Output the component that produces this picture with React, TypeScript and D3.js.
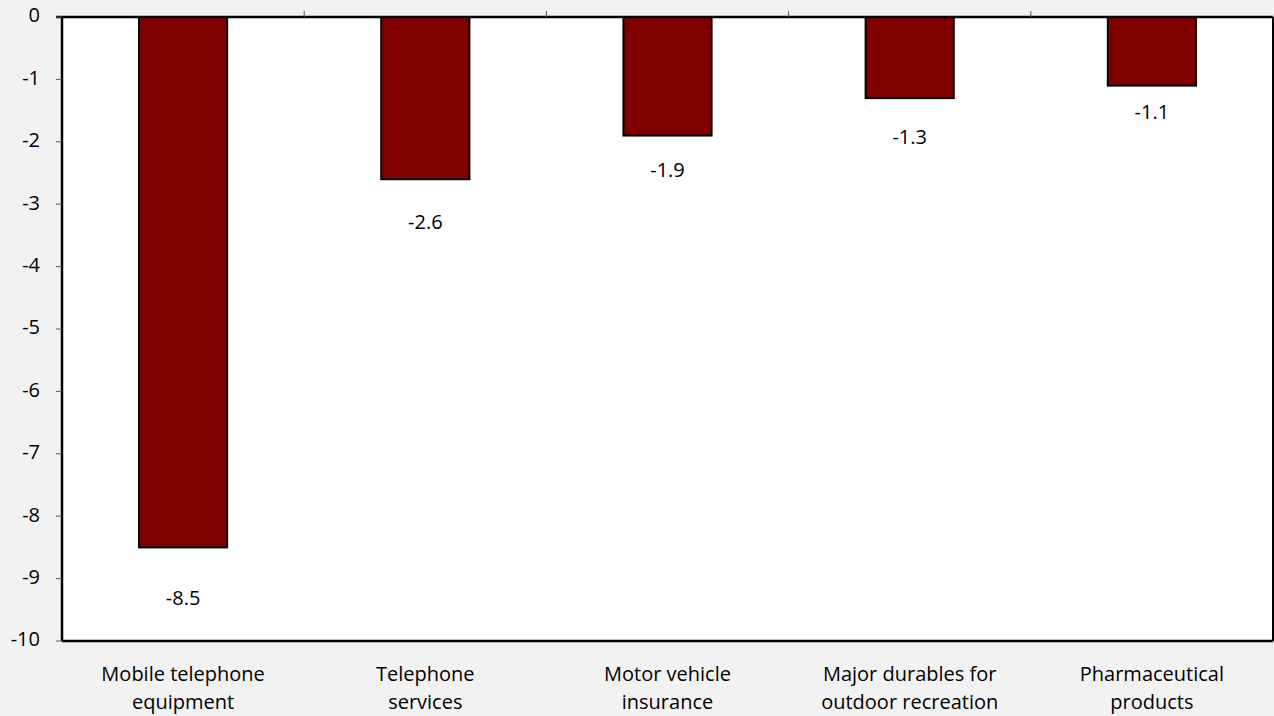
import React from "react";
import * as d3 from "d3";

const categories = [
  ["Mobile telephone", "equipment"],
  ["Telephone", "services"],
  ["Motor vehicle", "insurance"],
  ["Major durables for", "outdoor recreation"],
  ["Pharmaceutical", "products"],
];
const values = [-8.5, -2.6, -1.9, -1.3, -1.1];
const yTicks = [0, -1, -2, -3, -4, -5, -6, -7, -8, -9, -10];
// extra gap between each bar end and its value label
const labelGap = [52, 44, 36, 41, 28];

const W = 1274;
const H = 716;
const M = { left: 62, right: 1, top: 17, bottom: 75 };
const FONT = "'Open Sans', sans-serif";
const FS = 20;

export default function App() {
  const x = d3
    .scaleBand<number>()
    .domain(values.map((_, i) => i))
    .range([M.left, W - M.right])
    .paddingInner(0.636)
    .paddingOuter(0.318);
  const band = d3.scaleBand<number>().domain(values.map((_, i) => i)).range([M.left, W - M.right]);
  const y = d3.scaleLinear().domain([0, -10]).range([M.top, H - M.bottom]);

  return (
    <svg
      width={W}
      height={H}
      style={{ position: "absolute", left: 0, top: 0, display: "block", background: "#f2f2f2" }}
      fontFamily={FONT}
    >
      <rect x={M.left} y={M.top} width={W - M.right - M.left} height={y(-10) - M.top} fill="#fff" />
      {values.map((v, i) => (
        <rect
          key={i}
          x={x(i)}
          y={y(0)}
          width={x.bandwidth()}
          height={y(v) - y(0)}
          fill="#800000"
          stroke="#000"
          strokeWidth={2}
        />
      ))}
      {values.map((v, i) => (
        <text
          key={"l" + i}
          x={x(i)! + x.bandwidth() / 2}
          y={y(v) + labelGap[i]}
          textAnchor="middle"
          dominantBaseline="middle"
          fontSize={FS}
          fill="#000"
        >
          {v.toFixed(1)}
        </text>
      ))}
      {/* frame: left axis, zero line, bottom and right edges */}
      <line x1={M.left} x2={M.left} y1={M.top} y2={y(-10)} stroke="#000" strokeWidth={2.5} />
      <line x1={W - M.right} x2={W - M.right} y1={M.top} y2={y(-10)} stroke="#000" strokeWidth={2} />
      <line x1={M.left} x2={W - M.right} y1={y(-10)} y2={y(-10)} stroke="#000" strokeWidth={2.5} />
      <line x1={M.left - 6} x2={W - M.right} y1={y(0)} y2={y(0)} stroke="#000" strokeWidth={2.5} />
      {values.slice(1).map((_, i) => (
        <line
          key={"ct" + i}
          x1={band(i + 1)}
          x2={band(i + 1)}
          y1={y(0) - 6}
          y2={y(0)}
          stroke="#595959"
          strokeWidth={1}
        />
      ))}
      {yTicks.map((t) => (
        <g key={t}>
          <line x1={M.left - 6} x2={M.left} y1={y(t)} y2={y(t)} stroke="#595959" strokeWidth={1} />
          <text x={40} y={y(t)} textAnchor="end" dominantBaseline="middle" fontSize={FS} fill="#000">
            {t}
          </text>
        </g>
      ))}
      {categories.map((lines, i) => (
        <text
          key={"c" + i}
          x={band(i)! + band.bandwidth() / 2}
          y={676}
          textAnchor="middle"
          fontSize={FS}
          fill="#000"
        >
          {lines.map((ln, j) => (
            <tspan key={j} x={band(i)! + band.bandwidth() / 2} dy={j === 0 ? 0 : 28} dominantBaseline="middle">
              {ln}
            </tspan>
          ))}
        </text>
      ))}
    </svg>
  );
}
